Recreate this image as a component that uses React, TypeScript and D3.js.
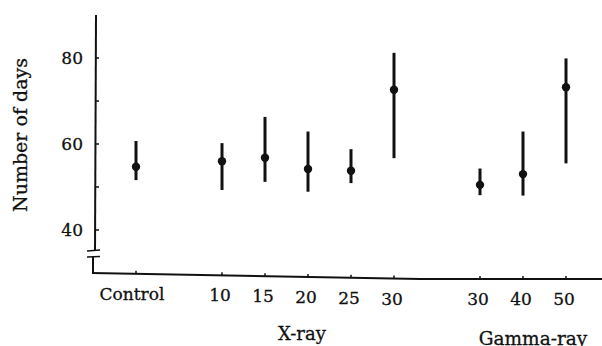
import React from "react";
import * as d3 from "d3";

const categories = ["Control", "X10", "X15", "X20", "X25", "X30", "G30", "G40", "G50"];
const tickLabels = ["Control", "10", "15", "20", "25", "30", "30", "40", "50"];
const means = [54.7, 56.0, 56.8, 54.2, 53.8, 72.6, 50.5, 53.0, 73.2];
const upper = [60.7, 60.2, 66.3, 62.9, 58.8, 81.2, 54.3, 62.9, 79.9];
const lower = [51.6, 49.3, 51.2, 48.9, 50.9, 56.7, 48.1, 48.0, 55.5];
const slotOrder = ["Control", "_gap1", "X10", "X15", "X20", "X25", "X30", "_gap2", "G30", "G40", "G50"];
const yTicks = [40, 50, 60, 70, 80];
const yTickLabels = [40, 60, 80];
const groupTitles = ["X-ray", "Gamma-ray"];

const W = 602;
const H = 346;
const font = "'DejaVu Serif', 'Liberation Serif', serif";

export default function App() {
  const x = d3.scalePoint<string>().domain(slotOrder).range([136, 566]);
  const y = d3.scaleLinear().domain([40, 80]).range([230, 58]);
  const axisX = 95;
  const axisY = 273;
  const drop = 6;
  const ink = "#111";
  const slopeAt = (px: number) => Math.min(1, (px - axisX) / (420 - axisX)) * drop;

  return (
    <svg
      width={W}
      height={H}
      style={{ position: "absolute", left: 0, top: 0, background: "#fff" }}
      fontFamily={font}
    >
      <rect width={W} height={H} fill="#fff" />
      {/* y axis with break */}
      <line x1={axisX + 1} y1={15} x2={axisX} y2={251} stroke={ink} strokeWidth={2} />
      <line x1={axisX - 2} y1={257} x2={axisX - 2} y2={axisY} stroke={ink} strokeWidth={2} />
      <line x1={87} y1={251} x2={100} y2={250} stroke={ink} strokeWidth={1.6} />
      <line x1={87} y1={257} x2={100} y2={256.5} stroke={ink} strokeWidth={1.6} />
      {/* x axis */}
      <path
        d={`M${axisX - 3},${axisY} L420,${axisY + drop} L${W},${axisY + drop}`}
        fill="none"
        stroke={ink}
        strokeWidth={2}
      />

      {yTicks.map((t) => (
        <line key={"yt" + t} x1={axisX} y1={y(t)} x2={axisX + 4} y2={y(t)} stroke={ink} strokeWidth={1.5} />
      ))}
      {yTickLabels.map((t) => (
        <text
          key={"yl" + t}
          x={83}
          y={y(t)}
          dy="0.36em"
          textAnchor="end"
          fontSize={17}
          fill={ink}
          stroke={ink}
          strokeWidth={0.3}
        >
          {t}
        </text>
      ))}
      <text
        transform={`translate(27,${135}) rotate(-90)`}
        textAnchor="middle"
        fontSize={19}
        fill={ink}
        stroke={ink}
        strokeWidth={0.3}
      >
        Number of days
      </text>

      {categories.map((c, i) => {
        const cx = x(c)!;
        const s = slopeAt(cx);
        return (
          <g key={c}>
            <line x1={cx} y1={axisY + s} x2={cx} y2={axisY + s - 3} stroke={ink} strokeWidth={1.5} />
            <text
              x={i === 0 ? cx - 4 : cx - 2}
              y={axisY + 26 + s}
              textAnchor="middle"
              fontSize={17}
              fill={ink}
              stroke={ink}
              strokeWidth={0.3}
            >
              {tickLabels[i]}
            </text>
            <line x1={cx} y1={y(upper[i])} x2={cx} y2={y(lower[i])} stroke={ink} strokeWidth={3} />
            <circle cx={cx} cy={y(means[i])} r={4.2} fill={ink} />
          </g>
        );
      })}

      <text x={302} y={340} textAnchor="middle" fontSize={18} fill={ink} stroke={ink} strokeWidth={0.3}>
        {groupTitles[0]}
      </text>
      <text x={533} y={345} textAnchor="middle" fontSize={18.5} fill={ink} stroke={ink} strokeWidth={0.3}>
        {groupTitles[1]}
      </text>
    </svg>
  );
}
